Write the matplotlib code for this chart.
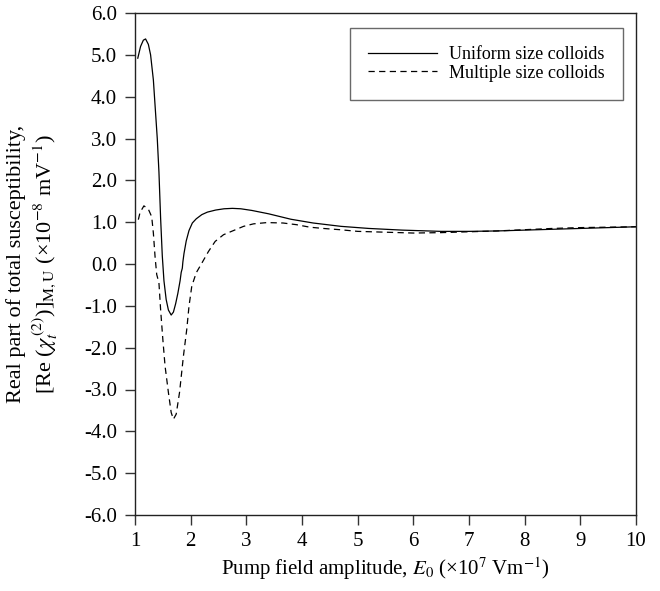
import numpy as np
import matplotlib
matplotlib.use("Agg")
import matplotlib.pyplot as plt

# values
x_uniform = [1.05, 1.10, 1.15, 1.19, 1.24, 1.28, 1.33, 1.37, 1.40, 1.43, 1.46,
             1.49, 1.52, 1.56, 1.60, 1.65, 1.69, 1.73, 1.77, 1.81, 1.83, 1.85,
             1.86, 1.88, 1.92, 1.97, 2.03, 2.10, 2.20, 2.30, 2.45, 2.60, 2.75,
             2.90, 3.10, 3.40, 3.80, 4.20, 4.70, 5.20, 5.80, 6.50, 7.00, 7.50,
             8.00, 8.50, 9.00, 9.50, 10.0]
y_uniform = [4.92, 5.20, 5.35, 5.38, 5.25, 5.00, 4.40, 3.60, 3.00, 2.20, 1.10,
             0.20, -0.40, -0.85, -1.10, -1.22, -1.15, -0.95, -0.70, -0.40, -0.20, -0.10,
             0.05, 0.25, 0.55, 0.80, 0.98, 1.08, 1.18, 1.24, 1.29, 1.32, 1.33,
             1.32, 1.28, 1.20, 1.07, 0.98, 0.90, 0.85, 0.81, 0.78, 0.78, 0.79,
             0.81, 0.83, 0.85, 0.87, 0.89]

x_multiple = [1.06, 1.09, 1.16, 1.24, 1.30, 1.33, 1.36, 1.39, 1.43, 1.46, 1.50,
              1.54, 1.60, 1.65, 1.69, 1.74, 1.80, 1.87, 1.93, 1.97, 2.02, 2.10,
              2.20, 2.32, 2.44, 2.59, 2.77, 2.95, 3.13, 3.37, 3.66, 3.90, 4.14,
              4.38, 4.68, 5.00, 5.50, 6.00, 6.50, 7.00, 7.50, 8.00, 8.50, 9.00,
              9.50, 10.0]
y_multiple = [1.06, 1.23, 1.39, 1.31, 1.13, 0.74, 0.18, -0.25, -0.45, -1.09, -1.80,
              -2.44, -3.07, -3.55, -3.71, -3.59, -3.07, -2.20, -1.56, -1.01, -0.53, -0.21,
              0.02, 0.30, 0.54, 0.70, 0.80, 0.90, 0.96, 0.99, 0.98, 0.94, 0.88,
              0.85, 0.82, 0.78, 0.76, 0.74, 0.75, 0.77, 0.79, 0.82, 0.85, 0.87,
              0.88, 0.89]

plt.rcParams['font.family'] = 'Liberation Serif'
plt.rcParams['mathtext.fontset'] = 'stix'
plt.rcParams['font.size'] = 15

fig = plt.figure(figsize=(6.6, 5.91), dpi=100)
ax = fig.add_axes([135/660, 76/591, 501/660, 502/591])

ax.plot(x_uniform, y_uniform, color='k', lw=0.9, label='Uniform size colloids')
ax.plot(x_multiple, y_multiple, color='k', lw=0.9, dashes=(5, 3.5),
        label='Multiple size colloids')

ax.set_xlim(1, 10)
ax.set_ylim(-6, 6)
ax.set_xticks(range(1, 11))
ax.set_yticks(np.arange(-6, 6.1, 1))
ax.set_yticklabels(['%.1f' % v for v in np.arange(-6, 6.1, 1)])
ax.tick_params(direction='out', length=7, width=1, color='#333333', labelsize=15)
ax.tick_params(axis='y', pad=6)
ax.tick_params(axis='x', pad=5.5)
for s in ax.spines.values():
    s.set_color('#222222')
    s.set_linewidth(1)

leg = ax.legend(loc='upper right', bbox_to_anchor=(0.974, 0.970), borderaxespad=0,
                frameon=True, fancybox=False, handlelength=3.8, handletextpad=0.7,
                borderpad=1.0, labelspacing=0.08, fontsize=13)
leg.get_frame().set_edgecolor('#444444')
leg.get_frame().set_linewidth(1)

fig.text(33/660, 1 - 264/591,
         "Real part of total susceptibility,\n"
         r"[Re ($\chi_t^{\,(2)}$)]$_{\rm M,U}$ (×10$^{-8}$ mV$^{-1}$)",
         rotation=90, ha='center', va='center', multialignment='center', fontsize=16)
ax.set_xlabel(r"Pump field amplitude, $E_0$ (×10$^7$ Vm$^{-1}$)", fontsize=15, labelpad=3)

fig.savefig('out.png', dpi=100)
